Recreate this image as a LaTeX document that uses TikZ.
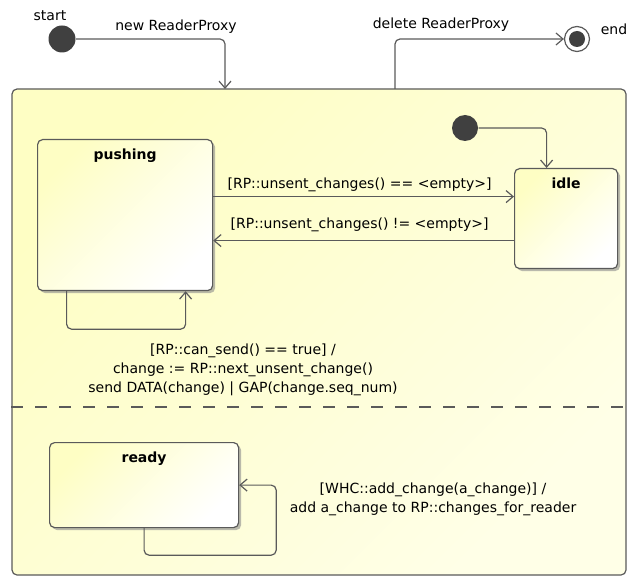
\documentclass[tikz,border=0pt]{standalone}
\usepackage{fontspec}
\setmainfont{DejaVu Sans}
\usetikzlibrary{arrows.meta,shadows,fit,positioning}
\definecolor{stateyellow}{HTML}{FEFEC4}
\definecolor{linegray}{HTML}{5A5A5A}
\definecolor{dotgray}{HTML}{404040}

\begin{document}
\begin{tikzpicture}[x=1pt, y=-1pt, font=\fontsize{14}{19}\selectfont,
    >={Straight Barb[length=7pt,width=12pt]}, line width=1.2pt,
    state/.style={draw=linegray, rounded corners=5pt, top color=stateyellow,
      bottom color=white, shading angle=45, inner sep=0pt, anchor=north west,
      drop shadow={shadow xshift=2.5pt, shadow yshift=-2.5pt, fill=black!45, opacity=.6}},
    composite/.style={draw=linegray, rounded corners=5pt, top color=stateyellow,
      bottom color=white!60!stateyellow, shading angle=45, inner sep=0pt},
    initial/.style={circle, fill=dotgray, minimum size=27pt, inner sep=0pt},
    final/.style={circle, draw=linegray, fill=white, minimum size=25pt, inner sep=0pt,
      path picture={\fill[dotgray] (path picture bounding box.center) circle (8pt);}},
    trans/.style={->, draw=linegray, rounded corners=5pt},
    title/.style={font=\fontsize{14}{16}\selectfont\bfseries, anchor=north}]
    \useasboundingbox (0,0) rectangle (629,577);

    % outer state and its pseudo states
    \node[composite, fit={(12,89) (626,575)}] (rp) {};
    \node[initial] (start) at (62,39) {};
    \node (start-lbl) at (50,16) {start};
    \node[final] (final) at (577,39) {};
    \node (final-lbl) at (614,29) {end};
    \coordinate (rp-in) at (225,89);
    \coordinate (rp-out) at (395,89);
    \node (new-lbl) at (176,27) {new ReaderProxy};
    \node (del-lbl) at (441,25) {delete ReaderProxy};
    \draw[trans] (start) -| (rp-in);
    \draw[trans] (rp-out) |- (final);

    % upper region
    \node[state, minimum width=175pt, minimum height=151pt] (pushing) at (37,139) {};
    \node[title] (pushing-lbl) at ([yshift=-6pt]pushing.north) {pushing};
    \node[state, minimum width=103pt, minimum height=100pt] (idle) at (514,168) {};
    \node[title] (idle-lbl) at ([yshift=-6pt]idle.north) {idle};
    \node[initial, minimum size=26pt] (init) at (465,128) {};
    \draw[trans] (init) -| ([xshift=-19.5pt]idle.north);
    \draw[trans] ([yshift=18.5pt]pushing.east) -- node[midway, above=1pt, xshift=-4pt]
      (empty-lbl) {[RP::unsent\_changes() == <empty>]} ([yshift=22pt]idle.west);
    \draw[trans] ([yshift=-22pt]idle.west) -- node[midway, above=5pt, xshift=-4pt]
      (nonempty-lbl) {[RP::unsent\_changes() != <empty>]} ([yshift=-25.5pt]pushing.east);
    \draw[trans] ([xshift=-58.5pt]pushing.south) -- ++(0,38) -| ([xshift=60.5pt]pushing.south);
    \node[align=center] (send-lbl) at (243,370) {[RP::can\_send() == true] /\\
      change := RP::next\_unsent\_change()\\send DATA(change) | GAP(change.seq\_num)};

    % region separator
    \draw[linegray, dash pattern=on 12pt off 12pt] ([yshift=-75pt]rp.west) -- ([yshift=-75pt]rp.east);

    % lower region
    \node[state, minimum width=189pt, minimum height=85pt] (ready) at (49,442) {};
    \node[title] (ready-lbl) at ([yshift=-6pt]ready.north) {ready};
    \draw[trans] (ready.south) -- ++(0,27) -| ([xshift=37pt]ready.east) -- (ready.east);
    \node[align=center] (add-lbl) at (433,499) {[WHC::add\_change(a\_change)] /\\
      add a\_change to RP::changes\_for\_reader};
\end{tikzpicture}
\end{document}
